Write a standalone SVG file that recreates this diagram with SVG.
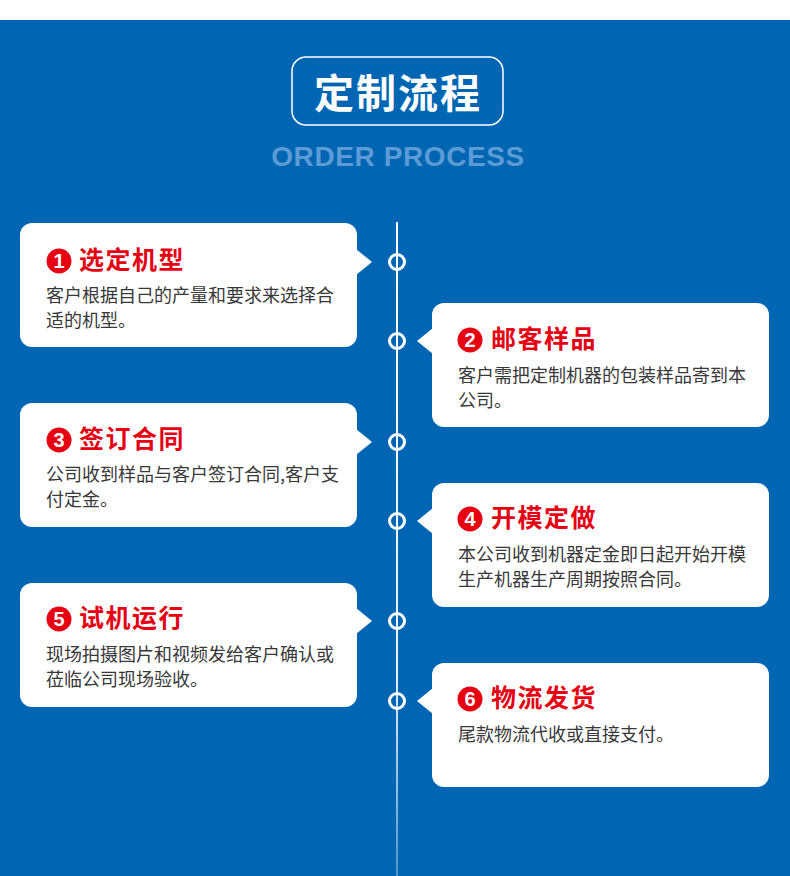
<svg xmlns="http://www.w3.org/2000/svg" width="790" height="876" viewBox="0 0 790 876">
<defs>
<style>
.card{fill:#ffffff}
.ttl{font-family:"Noto Sans CJK SC","Noto Sans",sans-serif;font-weight:700;font-size:25px;fill:#E60012;letter-spacing:1.5px}
.body{font-family:"Noto Sans CJK SC","Noto Sans",sans-serif;font-size:18px;fill:#383838}
.numc{fill:#E60012}
.num{font-family:"Liberation Sans",Arial,sans-serif;font-weight:700;font-size:20px;fill:#ffffff;text-anchor:middle}
.dot{fill:none;stroke:#ffffff;stroke-width:3}
</style>
<linearGradient id="lineg" x1="0" y1="222" x2="0" y2="876" gradientUnits="userSpaceOnUse">
<stop offset="0" stop-color="#ffffff" stop-opacity="1"/>
<stop offset="0.7" stop-color="#ffffff" stop-opacity="0.9"/>
<stop offset="1" stop-color="#ffffff" stop-opacity="0.3"/>
</linearGradient>
</defs>
<rect x="0" y="0" width="790" height="876" fill="#ffffff"/>
<rect x="0" y="20" width="790" height="856" fill="#0066B3"/>
<g id="header">
<rect x="292" y="57" width="211" height="68" rx="14" fill="none" stroke="#ffffff" stroke-width="1.5"/>
<text x="398" y="108" text-anchor="middle" font-family="Noto Sans CJK SC,Noto Sans,sans-serif" font-weight="700" font-size="40" letter-spacing="2" fill="#ffffff">定制流程</text>
<text x="398" y="166" text-anchor="middle" font-family="Liberation Sans,Arial,sans-serif" font-weight="700" font-size="28" letter-spacing="0.6" fill="#5C9BD6">ORDER PROCESS</text>
</g>
<g id="connectors">
<rect x="396" y="222" width="2" height="654" fill="url(#lineg)"/>
<circle class="dot" cx="397" cy="262" r="7.5"/>
<circle class="dot" cx="397" cy="341" r="7.5"/>
<circle class="dot" cx="397" cy="442" r="7.5"/>
<circle class="dot" cx="397" cy="521" r="7.5"/>
<circle class="dot" cx="397" cy="621" r="7.5"/>
<circle class="dot" cx="397" cy="701" r="7.5"/>
</g>
<g id="step1">
<rect class="card" x="20" y="223" width="337" height="124" rx="12"/>
<polygon class="card" points="356,249 372,262 356,275"/>
<circle class="numc" cx="59" cy="261" r="12.5"/>
<text class="num" x="59" y="268">1</text>
<text class="ttl" x="79" y="269">选定机型</text>
<text class="body" x="46" y="302">客户根据自己的产量和要求来选择合</text>
<text class="body" x="46" y="327">适的机型。</text>
</g>
<g id="step2">
<rect class="card" x="432" y="303" width="337" height="124" rx="12"/>
<polygon class="card" points="433,328 417,341 433,354"/>
<circle class="numc" cx="470" cy="340" r="12.5"/>
<text class="num" x="470" y="347">2</text>
<text class="ttl" x="491" y="348">邮客样品</text>
<text class="body" x="458" y="382">客户需把定制机器的包装样品寄到本</text>
<text class="body" x="458" y="407">公司。</text>
</g>
<g id="step3">
<rect class="card" x="20" y="403" width="337" height="124" rx="12"/>
<polygon class="card" points="356,429 372,442 356,455"/>
<circle class="numc" cx="59" cy="440" r="12.5"/>
<text class="num" x="59" y="447">3</text>
<text class="ttl" x="79" y="448">签订合同</text>
<text class="body" x="46" y="481">公司收到样品与客户签订合同,客户支</text>
<text class="body" x="46" y="506">付定金。</text>
</g>
<g id="step4">
<rect class="card" x="432" y="483" width="337" height="124" rx="12"/>
<polygon class="card" points="433,508 417,521 433,534"/>
<circle class="numc" cx="470" cy="519" r="12.5"/>
<text class="num" x="470" y="526">4</text>
<text class="ttl" x="491" y="527">开模定做</text>
<text class="body" x="458" y="561">本公司收到机器定金即日起开始开模</text>
<text class="body" x="458" y="586">生产机器生产周期按照合同。</text>
</g>
<g id="step5">
<rect class="card" x="20" y="583" width="337" height="124" rx="12"/>
<polygon class="card" points="356,608 372,621 356,634"/>
<circle class="numc" cx="59" cy="619" r="12.5"/>
<text class="num" x="59" y="626">5</text>
<text class="ttl" x="79" y="627">试机运行</text>
<text class="body" x="46" y="661">现场拍摄图片和视频发给客户确认或</text>
<text class="body" x="46" y="686">莅临公司现场验收。</text>
</g>
<g id="step6">
<rect class="card" x="432" y="663" width="337" height="124" rx="12"/>
<polygon class="card" points="433,688 417,701 433,714"/>
<circle class="numc" cx="470" cy="699" r="12.5"/>
<text class="num" x="470" y="706">6</text>
<text class="ttl" x="491" y="707">物流发货</text>
<text class="body" x="458" y="741">尾款物流代收或直接支付。</text>
</g>
</svg>
